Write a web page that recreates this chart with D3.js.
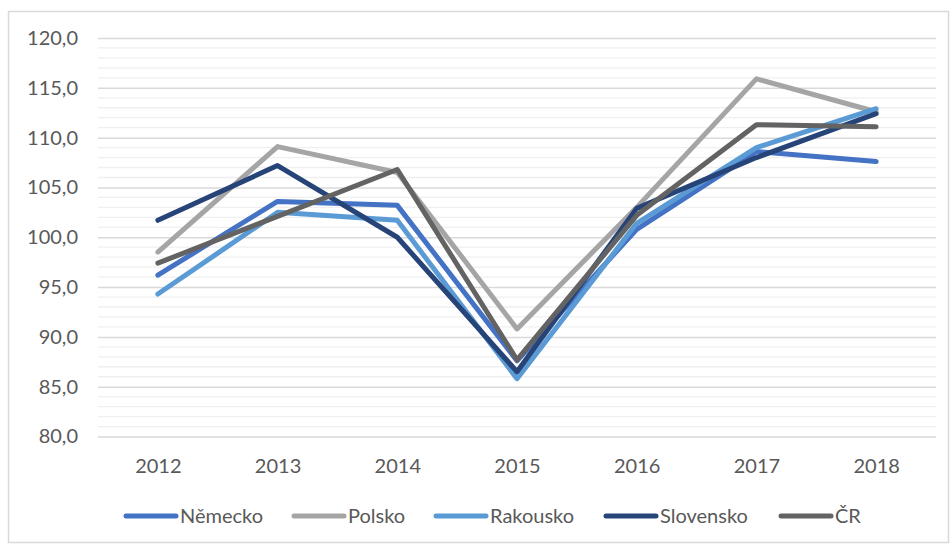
<!DOCTYPE html>
<html>
<head>
<meta charset="utf-8">
<script src="https://cdn.jsdelivr.net/npm/d3@7/dist/d3.min.js"></script>
<style>
  html, body { margin: 0; padding: 0; background: #fff; }
  svg { display: block; }
  text { font-family: Lato, "Open Sans", sans-serif; fill: #595959; }
</style>
</head>
<body>
<div id="chart"></div>
<script>
const years = ["2012", "2013", "2014", "2015", "2016", "2017", "2018"];
const seriesNames = ["Německo", "Polsko", "Rakousko", "Slovensko", "ČR"];
const nemecko   = [96.2, 103.6, 103.2, 87.6, 100.8, 108.6, 107.6];
const polsko    = [98.5, 109.1, 106.5, 90.8, 103.0, 115.9, 112.6];
const rakousko  = [94.3, 102.5, 101.7, 85.8, 101.4, 109.0, 112.9];
const slovensko = [101.7, 107.2, 100.0, 86.5, 102.9, 108.0, 112.4];
const cr        = [97.4, 102.1, 106.8, 87.7, 102.2, 111.3, 111.1];
const yTicks = [80, 85, 90, 95, 100, 105, 110, 115, 120];
const colors = ["#4472C4", "#A5A5A5", "#5B9BD5", "#264478", "#636363"];

const seriesValues = [nemecko, polsko, rakousko, slovensko, cr];

const W = 950, H = 544;
const svg = d3.select("#chart").append("svg").attr("width", W).attr("height", H);

// chart border
svg.append("rect").attr("x", 8.5).attr("y", 11.5).attr("width", 940).attr("height", 531)
  .attr("fill", "#fff").attr("stroke", "#d9d9d9").attr("stroke-width", 1.5);

const plot = { left: 98, right: 936, top: 38, bottom: 436.5 };
const x = d3.scalePoint().domain(years).range([plot.left, plot.right]).padding(0.5);
const y = d3.scaleLinear().domain([80, 120]).range([plot.bottom, plot.top]);

// minor gridlines
const minor = d3.range(80, 120.001, 1).filter(v => v % 5 !== 0);
svg.append("g").selectAll("line").data(minor).join("line")
  .attr("x1", plot.left).attr("x2", plot.right)
  .attr("y1", d => y(d)).attr("y2", d => y(d))
  .attr("stroke", "#efefef").attr("stroke-width", 1.3);

// major gridlines via axis
const yAxis = d3.axisLeft(y).tickValues(yTicks)
  .tickSize(-(plot.right - plot.left)).tickPadding(20)
  .tickFormat(d => d3.format(".1f")(d).replace(".", ","));
const gy = svg.append("g").attr("transform", `translate(${plot.left},0)`).call(yAxis);
gy.select(".domain").remove();
gy.selectAll(".tick line").attr("stroke", "#d9d9d9").attr("stroke-width", 1.5);
gy.selectAll(".tick text").attr("font-size", 20).attr("fill", "#595959")
  .style("font-family", "Lato, 'Open Sans', sans-serif");

// x axis labels
const xAxis = d3.axisBottom(x).tickSize(0).tickPadding(22);
const gx = svg.append("g").attr("transform", `translate(0,${plot.bottom})`).call(xAxis);
gx.select(".domain").remove();
gx.selectAll(".tick text").attr("font-size", 20).attr("fill", "#595959")
  .style("font-family", "Lato, 'Open Sans', sans-serif");

// lines
const line = d3.line().x((d, i) => x(years[i])).y(d => y(d));
seriesValues.forEach((vals, k) => {
  svg.append("path").datum(vals)
    .attr("d", line)
    .attr("fill", "none")
    .attr("stroke", colors[k])
    .attr("stroke-width", 5)
    .attr("stroke-linejoin", "round")
    .attr("stroke-linecap", "round");
});

// legend
const legendX = [124, 292, 434, 604, 779];
const lg = svg.append("g");
seriesNames.forEach((name, k) => {
  const gx0 = legendX[k];
  lg.append("line").attr("x1", gx0 + 2).attr("x2", gx0 + 52)
    .attr("y1", 516).attr("y2", 516)
    .attr("stroke", colors[k]).attr("stroke-width", 5).attr("stroke-linecap", "round");
  lg.append("text").attr("x", gx0 + 56).attr("y", 516).attr("dy", "0.35em")
    .attr("font-size", 20).attr("fill", "#595959").text(name);
});
</script>
</body>
</html>
